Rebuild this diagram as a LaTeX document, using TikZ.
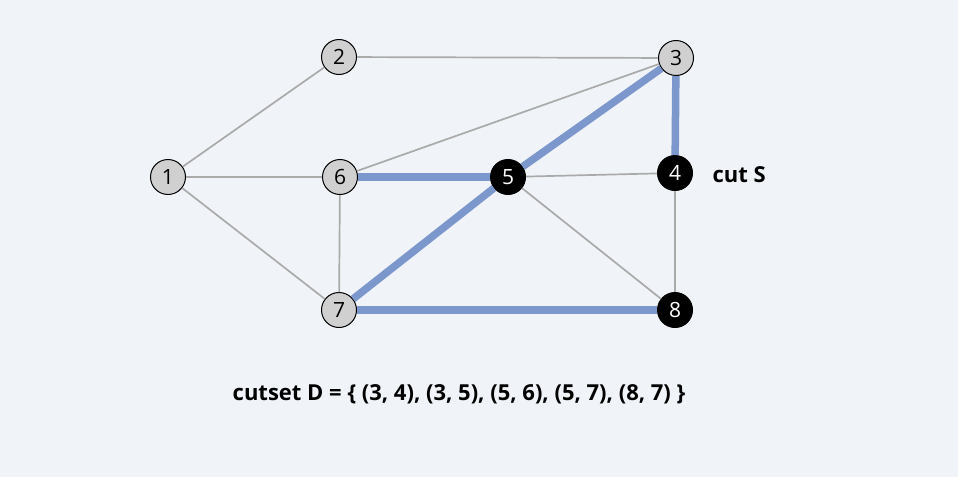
\documentclass[tikz,border=0pt]{standalone}
\usepackage{fontspec}
\setmainfont{Open Sans}
\definecolor{bgpage}{HTML}{F0F3F7}
\definecolor{edgegray}{HTML}{AAAAAA}
\definecolor{cutblue}{HTML}{7B97CC}
\definecolor{nodegray}{HTML}{D0D0D0}
\tikzset{
  vtx/.style={circle, draw=black, fill=nodegray, line width=1pt, minimum size=35pt, inner sep=0pt, font=\fontsize{21}{21}\selectfont},
  vtxS/.style={vtx, fill=black, text=white},
  edge/.style={edgegray, line width=1.7pt},
  cutedge/.style={cutblue, line width=7.5pt}
}
\begin{document}
\begin{tikzpicture}[x=1pt, y=-1pt]
    % 1. Nen
    \fill[bgpage] (0,0) rectangle (958,477);
    \useasboundingbox (0,0) rectangle (958,477);

    % 2. Cac dinh
    \node[vtx]  (n1) at (168,177) {1};
    \node[vtx]  (n2) at (339,57)  {2};
    \node[vtx]  (n3) at (676,58)  {3};
    \node[vtxS] (n4) at (675,173) {4};
    \node[vtxS] (n5) at (508,177) {5};
    \node[vtx]  (n6) at (340,177) {6};
    \node[vtx]  (n7) at (339,310) {7};
    \node[vtxS] (n8) at (675,310) {8};

    % 3. Cac canh
    \draw[edge] (n1) -- (n2);
    \draw[edge] (n1) -- (n6);
    \draw[edge] (n1) -- (n7);
    \draw[edge] (n2) -- (n3);
    \draw[edge] (n6) -- (n3);
    \draw[edge] (n6) -- (n7);
    \draw[edge] (n5) -- (n4);
    \draw[edge] (n5) -- (n8);
    \draw[edge] (n4) -- (n8);

    % 4. Cac canh cat
    \draw[cutedge] (n3) -- (n4);
    \draw[cutedge] (n3) -- (n5);
    \draw[cutedge] (n6) -- (n5);
    \draw[cutedge] (n5) -- (n7);
    \draw[cutedge] (n8) -- (n7);

    % 5. Nhan
    \node[anchor=west, font=\fontsize{22}{22}\selectfont\bfseries] (cutS) at (709,175) {cut S};
    \node[font=\fontsize{22}{22}\selectfont\bfseries] (cutset) at (459,394)
        {cutset D = \{ (3, 4), (3, 5), (5, 6), (5, 7), (8, 7) \}};
\end{tikzpicture}
\end{document}
